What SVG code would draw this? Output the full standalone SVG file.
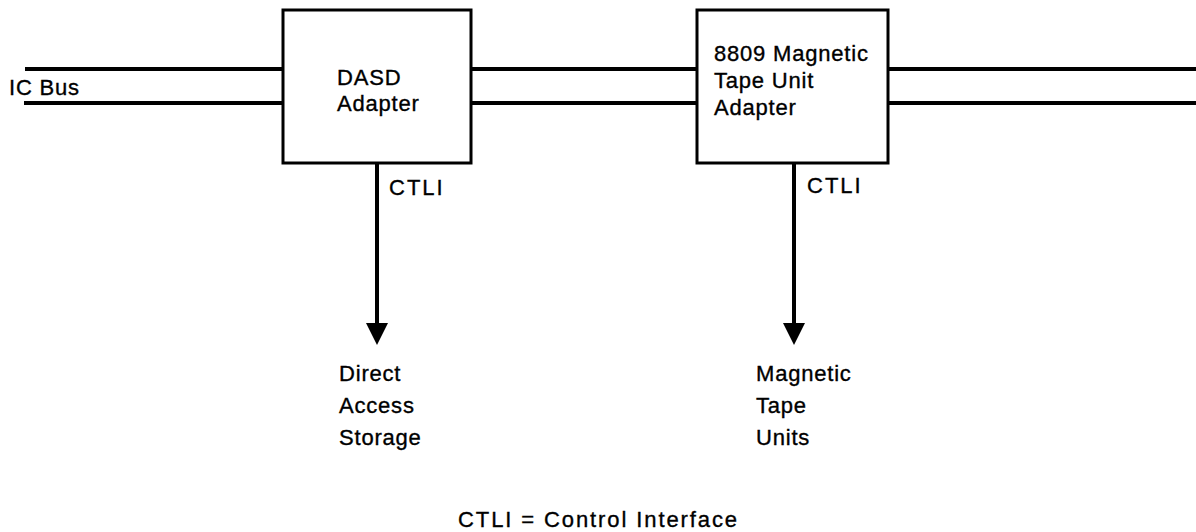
<svg xmlns="http://www.w3.org/2000/svg" width="1196" height="532" viewBox="0 0 1196 532">
  <style>
    .t { font-family: "Liberation Sans", Arial, sans-serif; font-size: 22px; fill: #000; stroke: #000; stroke-width: 0.35px; letter-spacing: 0.8px; }
    .box { fill: #fff; stroke: #000; stroke-width: 3; }
    .bus { stroke: #000; stroke-width: 4; fill: none; }
    .ln { stroke: #000; stroke-width: 4; fill: none; }
    .ah { fill: #000; }
  </style>
  <rect width="1196" height="532" fill="#fff"/>

  <g id="connectors">
    <line class="bus" x1="25" y1="69" x2="283" y2="69"/>
    <line class="bus" x1="24" y1="103" x2="283" y2="103"/>
    <line class="bus" x1="471" y1="69" x2="697" y2="69"/>
    <line class="bus" x1="471" y1="103" x2="697" y2="103"/>
    <line class="bus" x1="888" y1="69" x2="1196" y2="69"/>
    <line class="bus" x1="888" y1="103" x2="1196" y2="103"/>
    <line class="ln" x1="377" y1="163" x2="377" y2="325"/>
    <path class="ah" d="M366,323 L388,323 L377,345 Z"/>
    <line class="ln" x1="794" y1="163" x2="794" y2="325"/>
    <path class="ah" d="M783,323 L805,323 L794,345 Z"/>
    <text class="t" x="389" y="195" style="letter-spacing:2px">CTLI</text>
    <text class="t" x="807" y="193" style="letter-spacing:2px">CTLI</text>
  </g>

  <g id="icbus">
    <text class="t" x="9" y="95">IC Bus</text>
  </g>

  <g id="dasd">
    <rect class="box" x="283" y="10" width="188" height="153"/>
    <text class="t" x="337" y="85">DASD</text>
    <text class="t" x="337" y="111">Adapter</text>
  </g>

  <g id="tape">
    <rect class="box" x="697" y="10" width="191" height="153"/>
    <text class="t" x="714" y="61">8809 Magnetic</text>
    <text class="t" x="714" y="88">Tape Unit</text>
    <text class="t" x="714" y="115">Adapter</text>
  </g>

  <g id="das">
    <text class="t" x="339" y="381">Direct</text>
    <text class="t" x="339" y="413">Access</text>
    <text class="t" x="339" y="445">Storage</text>
  </g>

  <g id="mtu">
    <text class="t" x="756" y="381">Magnetic</text>
    <text class="t" x="756" y="413">Tape</text>
    <text class="t" x="756" y="445">Units</text>
  </g>

  <g id="legend">
    <text class="t" x="458" y="527" style="letter-spacing:1.9px">CTLI = Control Interface</text>
  </g>
</svg>
